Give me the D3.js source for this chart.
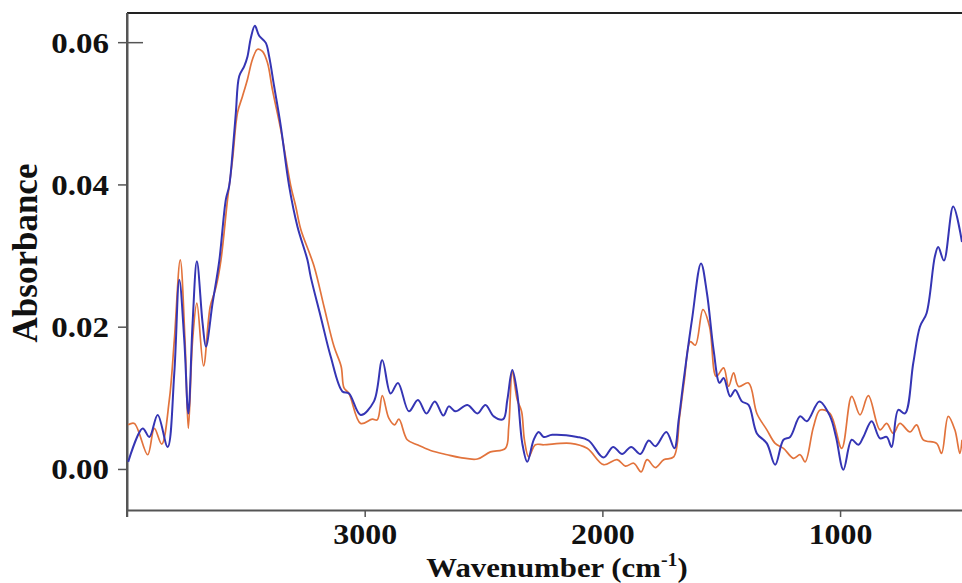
<!DOCTYPE html>
<html>
<head>
<meta charset="utf-8">
<script src="https://cdn.jsdelivr.net/npm/d3@7"></script>
<style>
  body { margin: 0; background: #fff; }
  svg { display: block; }
  text { font-family: "Liberation Serif", "Times New Roman", serif; font-weight: bold; fill: #111; }
</style>
</head>
<body>
<svg id="chart"></svg>
<script>
// wavenumber (cm-1) and absorbance, blue trace
const blueWave = [3995,3934,3906,3871,3829,3801,3780,3759,3742,3724,3706,3682,3668,3640,3612,3584,3570,3556,3542,3528,3507,3493,3479,3462,3444,3416,3402,3381,3353,3318,3283,3241,3227,3185,3143,3094,3066,3017,2961,2926,2891,2860,2814,2776,2740,2705,2669,2646,2618,2568,2526,2492,2457,2417,2400,2379,2358,2337,2316,2289,2268,2247,2211,2106,2058,1995,1955,1917,1879,1840,1805,1777,1731,1697,1679,1658,1623,1585,1560,1532,1507,1490,1462,1441,1413,1385,1350,1308,1273,1238,1210,1168,1140,1087,1042,1017,986,951,923,902,867,832,804,783,755,727,692,664,636,601,587,563,524,487];
const blueAbs = [0.0010,0.0057,0.0045,0.0076,0.0031,0.0135,0.0266,0.0181,0.0078,0.0205,0.0292,0.0205,0.0172,0.0233,0.0292,0.0379,0.0398,0.0444,0.0501,0.0552,0.0566,0.0580,0.0606,0.0623,0.0609,0.0599,0.0580,0.0538,0.0482,0.0398,0.0341,0.0294,0.0270,0.0214,0.0158,0.0109,0.0106,0.0076,0.0095,0.0153,0.0106,0.0121,0.0081,0.0097,0.0078,0.0095,0.0075,0.0088,0.0081,0.0090,0.0078,0.0090,0.0074,0.0070,0.0097,0.0139,0.0106,0.0036,0.0010,0.0041,0.0052,0.0045,0.0048,0.0045,0.0040,0.0016,0.0031,0.0021,0.0031,0.0021,0.0040,0.0032,0.0052,0.0029,0.0069,0.0125,0.0210,0.0289,0.0247,0.0167,0.0121,0.0128,0.0102,0.0111,0.0095,0.0090,0.0050,0.0036,0.0006,0.0041,0.0045,0.0074,0.0067,0.0095,0.0074,0.0045,-0.0001,0.0041,0.0034,0.0045,0.0067,0.0043,0.0045,0.0031,0.0083,0.0078,0.0149,0.0200,0.0219,0.0299,0.0312,0.0293,0.0369,0.0319];

// orange trace
const orangeWave = [3995,3969,3913,3885,3854,3822,3801,3776,3756,3742,3724,3706,3678,3650,3626,3605,3577,3556,3535,3514,3493,3472,3451,3430,3409,3388,3353,3311,3290,3269,3213,3171,3129,3099,3087,3066,3017,2968,2947,2926,2898,2874,2856,2821,2779,2723,2653,2597,2526,2471,2408,2394,2379,2358,2340,2328,2310,2282,2247,2134,2064,1995,1938,1903,1868,1837,1812,1777,1742,1700,1675,1655,1630,1609,1577,1549,1521,1490,1469,1448,1427,1385,1350,1308,1273,1238,1196,1168,1147,1112,1084,1042,993,951,916,881,832,804,776,748,706,678,650,594,573,545,517,496,487];
const orangeAbs = [0.0062,0.0064,0.0020,0.0057,0.0035,0.0097,0.0181,0.0294,0.0181,0.0057,0.0181,0.0233,0.0145,0.0228,0.0255,0.0293,0.0379,0.0435,0.0501,0.0524,0.0548,0.0576,0.0590,0.0587,0.0571,0.0533,0.0477,0.0398,0.0369,0.0337,0.0285,0.0228,0.0172,0.0144,0.0114,0.0106,0.0064,0.0070,0.0069,0.0103,0.0071,0.0062,0.0070,0.0041,0.0034,0.0026,0.0020,0.0016,0.0014,0.0024,0.0029,0.0059,0.0137,0.0097,0.0081,0.0041,0.0017,0.0034,0.0034,0.0036,0.0029,0.0006,0.0013,0.0004,0.0008,-0.0004,0.0013,0.0002,0.0013,0.0017,0.0074,0.0125,0.0179,0.0174,0.0224,0.0200,0.0130,0.0142,0.0116,0.0135,0.0116,0.0121,0.0078,0.0055,0.0036,0.0029,0.0015,0.0020,0.0010,0.0059,0.0083,0.0078,0.0029,0.0102,0.0076,0.0103,0.0055,0.0064,0.0050,0.0064,0.0052,0.0062,0.0041,0.0036,0.0022,0.0074,0.0055,0.0022,0.0041];

const xTicks = [4000, 3000, 2000, 1000];
const xTickLabels = ["", "3000", "2000", "1000"];
const yTicks = [0, 0.02, 0.04, 0.06];
const yTickLabels = ["0.00", "0.02", "0.04", "0.06"];

const width = 962, height = 583;
const plot = { left: 127, right: 962, top: 13, bottom: 510 };

const svg = d3.select("#chart")
    .attr("width", width)
    .attr("height", height);

const x = d3.scaleLinear().domain([4000, 487]).range([plot.left, plot.right]);
const y = d3.scaleLinear().domain([-0.00577, 0.0641]).range([plot.bottom, plot.top]);

svg.append("defs").append("clipPath").attr("id", "clip")
    .append("rect")
    .attr("x", plot.left).attr("y", plot.top)
    .attr("width", plot.right - plot.left).attr("height", plot.bottom - plot.top);

// top frame line
svg.append("line")
    .attr("x1", plot.left).attr("x2", plot.right)
    .attr("y1", plot.top).attr("y2", plot.top)
    .attr("stroke", "#222").attr("stroke-width", 2);

// x axis
const xAxis = svg.append("g")
    .attr("transform", `translate(0,${plot.bottom})`)
    .call(d3.axisBottom(x).tickValues(xTicks).tickSizeInner(7).tickSizeOuter(0).tickFormat((d, i) => xTickLabels[i]));
xAxis.select(".domain").attr("stroke", "#555").attr("stroke-width", 2);
xAxis.selectAll(".tick line").attr("stroke", "#555").attr("stroke-width", 1.5);
xAxis.selectAll(".tick text")
    .attr("y", 34).attr("dy", 0)
    .attr("transform", "scale(1.1,1)")
    .style("font-size", "29px")
    .attr("fill", "#111");

// y axis
const yAxis = svg.append("g")
    .attr("transform", `translate(${plot.left},0)`)
    .call(d3.axisLeft(y).tickValues(yTicks).tickSizeInner(9).tickSizeOuter(0).tickFormat((d, i) => yTickLabels[i]));
yAxis.select(".domain").attr("stroke", "#555").attr("stroke-width", 2);
yAxis.selectAll(".tick line").attr("stroke", "#555").attr("stroke-width", 1.5)
    .attr("x2", d => d === 0.06 ? 16 : -9)
    .attr("x1", d => d === 0.06 ? -9 : 0);
yAxis.selectAll(".tick text")
    .attr("x", 0).attr("dy", "0.33em")
    .attr("transform", "translate(-18,0) scale(1.1,1)")
    .style("font-size", "30px")
    .attr("fill", "#111");

// left axis runs a bit past the bottom line
svg.append("line")
    .attr("x1", plot.left).attr("x2", plot.left)
    .attr("y1", plot.top).attr("y2", plot.bottom + 7)
    .attr("stroke", "#555").attr("stroke-width", 2);

// axis titles
svg.append("text")
    .attr("transform", "translate(37,253) rotate(-90)")
    .attr("text-anchor", "middle")
    .style("font-size", "35px")
    .text("Absorbance");

const xTitle = svg.append("text")
    .attr("transform", "translate(557,577) scale(1.1,1)")
    .attr("text-anchor", "middle")
    .style("font-size", "28px");
xTitle.append("tspan").text("Wavenumber (cm");
xTitle.append("tspan").attr("dy", -11).style("font-size", "18px").text("-1");
xTitle.append("tspan").attr("dy", 11).text(")");

// spectra
const line = d3.line()
    .x(d => x(d[0]))
    .y(d => y(d[1]))
    .curve(d3.curveCatmullRom.alpha(0.5));

const orangeData = orangeWave.map((w, i) => [w, orangeAbs[i]]);
const blueData = blueWave.map((w, i) => [w, blueAbs[i]]);

const lines = svg.append("g").attr("clip-path", "url(#clip)");
lines.append("path")
    .datum(orangeData)
    .attr("d", line)
    .attr("fill", "none")
    .attr("stroke", "#e2733c")
    .attr("stroke-width", 1.7);
lines.append("path")
    .datum(blueData)
    .attr("d", line)
    .attr("fill", "none")
    .attr("stroke", "#3535b4")
    .attr("stroke-width", 2);
</script>
</body>
</html>
